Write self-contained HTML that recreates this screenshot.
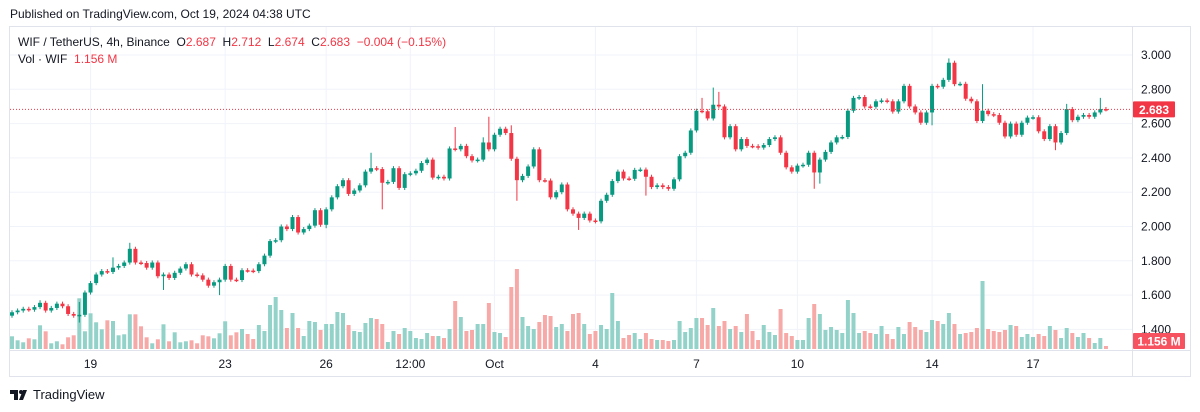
<!DOCTYPE html>
<html><head><meta charset="utf-8"><style>
body{margin:0;width:1200px;height:412px;background:#fff;font-family:"Liberation Sans",sans-serif;overflow:hidden;position:relative}
.t{position:absolute;white-space:nowrap}
</style></head><body>
<div class="t" style="left:10px;top:7px;font-size:12px;color:#131722">Published on TradingView.com, Oct 19, 2024 04:38 UTC</div>
<div class="t" style="left:18px;top:35px;font-size:12px;color:#131722">WIF / TetherUS, 4h, Binance&nbsp; O<span style="color:#f23645">2.687</span>&nbsp; H<span style="color:#f23645">2.712</span>&nbsp; L<span style="color:#f23645">2.674</span>&nbsp; C<span style="color:#f23645">2.683</span>&nbsp; <span style="color:#f23645">−0.004 (−0.15%)</span></div>
<div class="t" style="left:18px;top:52px;font-size:12px;color:#131722">Vol · WIF&nbsp; <span style="color:#f23645">1.156 M</span></div>
<svg id="c" width="1200" height="412" style="position:absolute;left:0;top:0;z-index:-1"></svg>
<div class="t" style="left:10px;top:387px;font-size:13px;color:#131722;display:flex;align-items:center"><svg width="20" height="12" style="margin-right:3px"><path d="M0 1h8v10h-4V5H0z M9 11l4-10h4l-4 10z" fill="#131722"/><circle cx="11" cy="3" r="2" fill="#131722"/></svg>TradingView</div>
<script>
const closes=[1.50,1.51,1.52,1.515,1.53,1.555,1.51,1.525,1.55,1.535,
1.49,1.48,1.485,1.615,1.67,1.72,1.74,1.735,1.76,1.77,
1.79,1.87,1.79,1.787,1.76,1.79,1.71,1.72,1.70,1.73,
1.755,1.78,1.72,1.715,1.69,1.655,1.675,1.69,1.77,1.69,
1.688,1.745,1.743,1.74,1.78,1.83,1.915,1.92,2.00,1.985,
2.055,1.965,1.985,2.005,2.095,2.01,2.10,2.17,2.235,2.27,
2.19,2.21,2.24,2.32,2.34,2.335,2.255,2.26,2.34,2.225,
2.305,2.31,2.325,2.37,2.39,2.285,2.29,2.28,2.455,2.45,
2.47,2.41,2.385,2.39,2.49,2.45,2.535,2.57,2.545,2.395,
2.27,2.295,2.35,2.45,2.27,2.268,2.17,2.20,2.245,2.10,
2.075,2.05,2.075,2.035,2.03,2.15,2.185,2.265,2.32,2.28,
2.278,2.33,2.332,2.29,2.23,2.24,2.23,2.22,2.275,2.41,
2.43,2.56,2.675,2.672,2.63,2.71,2.70,2.52,2.585,2.45,
2.51,2.47,2.468,2.46,2.475,2.51,2.52,2.43,2.345,2.32,
2.355,2.36,2.43,2.315,2.39,2.435,2.49,2.52,2.522,2.675,
2.75,2.755,2.70,2.698,2.73,2.735,2.73,2.67,2.73,2.82,
2.70,2.665,2.605,2.665,2.82,2.815,2.855,2.955,2.83,2.832,
2.745,2.73,2.615,2.675,2.655,2.65,2.605,2.525,2.60,2.535,
2.605,2.635,2.637,2.555,2.51,2.585,2.49,2.545,2.685,2.62,
2.64,2.65,2.64,2.665,2.685,2.683];
const firstOpen=1.48;
const volumes=[1.27,0.87,0.67,1.07,0.97,2.37,1.77,0.57,0.77,0.47,
1.17,1.37,5.07,1.77,3.57,2.67,1.97,2.87,2.8,1.37,
1.47,3.47,3.47,2.27,1.17,0.57,0.97,2.47,0.77,1.67,
0.67,0.77,0.87,0.57,1.37,1.27,1.07,1.57,2.77,1.37,
1.67,2.0,1.5,1.0,2.4,1.8,4.4,5.2,3.9,2.1,
3.6,2.1,1.3,2.8,2.7,1.9,2.5,2.5,3.7,3.6,
2.4,1.8,1.7,2.6,3.1,3.0,2.5,0.7,1.8,1.5,
2.1,1.8,1.1,1.0,1.6,1.3,1.3,1.1,2.0,4.8,
3.2,1.8,1.9,2.5,2.5,4.6,1.7,1.6,1.2,6.2,
8.0,3.2,2.3,2.0,2.7,3.4,3.3,2.2,2.5,1.8,
3.5,3.6,2.5,1.5,1.8,2.4,2.0,5.6,2.8,1.1,
1.4,1.6,1.0,1.6,1.0,0.9,0.9,0.8,0.9,2.8,
1.7,2.1,3.1,3.1,2.4,4.1,2.3,2.8,2.0,2.3,
1.7,3.5,1.8,0.9,2.4,1.7,1.4,4.0,1.6,1.3,
0.9,0.9,3.1,4.5,3.5,1.9,2.2,1.9,1.6,4.9,
3.6,1.6,1.8,1.6,1.5,2.3,1.5,1.0,2.2,1.5,
2.7,2.2,1.9,1.7,2.9,2.8,2.5,3.6,2.5,1.5,
1.6,1.7,2.1,6.8,2.0,1.8,1.7,1.9,2.4,2.3,
1.2,1.5,1.2,1.5,1.3,2.3,1.9,1.1,2.1,1.6,
1.2,1.6,1.1,0.6,1.1,0.3];
const highIdx=[5,12,18,21,64,79,85,89,123,125,126,167,173,188,194,84];
const highVals=[1.57,1.56,1.82,1.905,2.43,2.58,2.64,2.59,2.75,2.81,2.785,2.98,2.83,2.715,2.75,2.52];
const lowIdx=[27,37,56,66,90,101,113,143,144,164,186,12];
const lowVals=[1.63,1.60,1.99,2.10,2.15,1.98,2.18,2.22,2.25,2.59,2.445,1.44];
const priceTicks=[3.0,2.8,2.6,2.4,2.2,2.0,1.8,1.6,1.4];
const timeLabels=["19","23","26","12:00","Oct","4","7","10","14","17"];
const timeIdx=[14,38,56,71,86,104,122,140,164,182];
const lastPrice=2.683, lastVol="1.156 M";

const NS="http://www.w3.org/2000/svg",svg=document.getElementById('c');
const X0=12,DX=5.61,PLOTR=1132,VBASE=349,VSC=10;
const x=i=>X0+i*DX;
const y=p=>55+(3-p)*171.5;
function el(t,a,p){const e=document.createElementNS(NS,t);for(const k in a)e.setAttribute(k,a[k]);(p||svg).appendChild(e);return e;}
// frame
const frame=el('rect',{x:9.5,y:26.5,width:1181,height:350,fill:'none',stroke:'#e0e3eb'});


el('line',{x1:1132.5,y1:27,x2:1132.5,y2:376,stroke:'#e0e3eb'});
el('line',{x1:10,y1:350.5,x2:1190,y2:350.5,stroke:'#e0e3eb'});
priceTicks.forEach(p=>{
 const g=el('line',{x1:10,y1:y(p),x2:PLOTR,y2:y(p),stroke:'#f0f3fa'});
 
 
 const t=el('text',{x:1141,y:y(p)+4,'font-size':12,fill:'#131722','font-family':'Liberation Sans'});
 t.textContent=p.toFixed(3);
 
 
});
timeLabels.forEach((l,k)=>{
 const gx=x(timeIdx[k]);
 const g=el('line',{x1:gx,y1:27,x2:gx,y2:350,stroke:'#f0f3fa'});
 
 
 const t=el('text',{x:gx,y:368,'font-size':12,fill:'#131722','text-anchor':'middle','font-family':'Liberation Sans'});
 t.textContent=l;
 
 
});
// volumes
closes.forEach((c,i)=>{
 const o=i?closes[i-1]:firstOpen, up=c>=o;
 const h=volumes[i]*VSC;
 const r=el('rect',{x:x(i)-2,y:VBASE-h,width:4,height:h,fill:up?'#92d2c8':'#f7a9a7'});
 
 
});
// candles
closes.forEach((c,i)=>{
 const o=i?closes[i-1]:firstOpen, up=c>=o, col=up?'#089981':'#f23645';
 let hi=Math.max(o,c)+0.012, lo=Math.min(o,c)-0.012;
 const hk=highIdx.indexOf(i); if(hk>=0) hi=highVals[hk];
 const lk=lowIdx.indexOf(i); if(lk>=0) lo=lowVals[lk];
 const g=el('g',{});
 
 
 el('line',{x1:x(i),y1:y(hi),x2:x(i),y2:y(lo),stroke:col,'stroke-width':1},g);
 const t=Math.min(y(o),y(c)),h=Math.max(1.5,Math.abs(y(o)-y(c)));
 el('rect',{x:x(i)-2,y:t,width:4,height:h,fill:col},g);
});
// last price line + labels
const ly=y(lastPrice);
const pl=el('line',{x1:10,y1:ly,x2:PLOTR,y2:ly,stroke:'#f23645','stroke-dasharray':'1 2'});


const pb=el('rect',{x:1133,y:ly-8,width:42,height:16,fill:'#f23645',rx:1});


const pt=el('text',{x:1154,y:ly+4.5,'font-size':12,'font-weight':'bold',fill:'#fff','text-anchor':'middle','font-family':'Liberation Sans'});
pt.textContent=lastPrice.toFixed(3);
const vb=el('rect',{x:1133,y:333,width:52,height:16,fill:'#f7525f',rx:1});


const vt=el('text',{x:1159,y:345.5,'font-size':12,'font-weight':'bold',fill:'#fff','text-anchor':'middle','font-family':'Liberation Sans'});
vt.textContent=lastVol;
</script>
</body></html>
